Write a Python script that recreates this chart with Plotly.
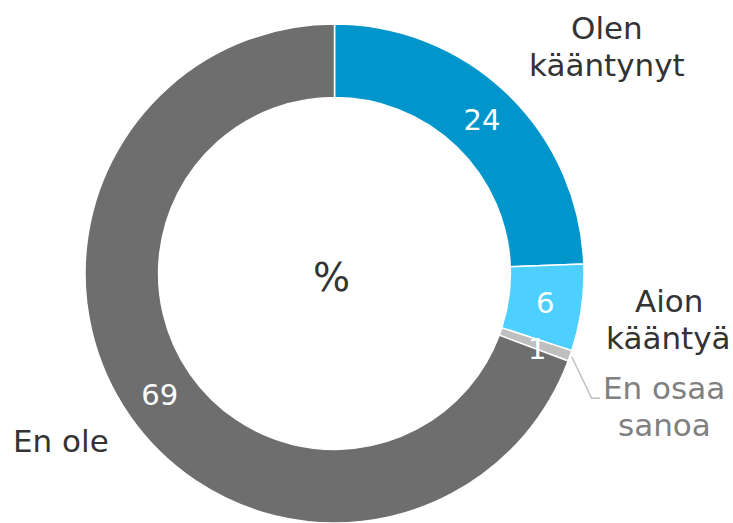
import plotly.graph_objects as go

W, H = 733, 523

categories = ["Olen<br>kääntynyt", "Aion<br>kääntyä", "En osaa<br>sanoa", "En ole"]
values = [24.4, 5.6, 0.7, 69.3]
colors = ["#0096CB", "#4DCFFF", "#BFBFBF", "#6E6E6E"]
label_colors = ["#333333", "#333333", "#808080", "#333333"]


def px(x):
    return x / W


def py(y):
    return 1 - y / H


cx, cy, R = 334.5, 274.5, 250.5
fig = go.Figure(go.Pie(
    labels=categories,
    values=values,
    sort=False,
    direction="clockwise",
    rotation=0,
    hole=0.705,
    marker=dict(colors=colors, line=dict(color="white", width=1.5)),
    texttemplate="%{value:.0f}",
    textposition=["inside", "inside", "none", "inside"],
    insidetextorientation="horizontal",
    textfont=dict(family="DejaVu Sans", size=29, color="white"),
    showlegend=False,
    hoverinfo="label+value",
    domain=dict(x=[px(cx - R), px(cx + R)], y=[0, py(cy - R)]),
))

LABEL_SIZE = 31
# (x centre, first-line baseline) for each category label, line pitch 37 px
label_pos = [(607, 39.5), (668.5, 312.5), (664, 399.5), (60.5, 453)]
annotations = []
for txt, col, (x, base) in zip(categories, label_colors, label_pos):
    for i, line in enumerate(txt.split("<br>")):
        b = base + 37 * i
        annotations.append(dict(
            text=line, x=px(x), y=py(b - 0.38 * LABEL_SIZE),
            xref="paper", yref="paper",
            xanchor="center", yanchor="middle", showarrow=False,
            font=dict(family="DejaVu Sans", size=LABEL_SIZE, color=col)))

# value label for the tiny slice
annotations.append(dict(
    text=f"{values[2]:.0f}", x=px(537), y=py(349), xref="paper", yref="paper",
    xanchor="center", yanchor="middle", showarrow=False,
    font=dict(family="DejaVu Sans", size=29, color="white")))

# centre label
annotations.append(dict(
    text="%", x=px(331.5), y=py(277), xref="paper", yref="paper",
    xanchor="center", yanchor="middle", showarrow=False,
    font=dict(family="DejaVu Sans", size=39, color="#333333")))

leader = (f"M {px(571.7)},{py(356.7)} L {px(591.7)},{py(398.3)} "
          f"L {px(600)},{py(398.3)}")

fig.update_layout(
    width=W, height=H, autosize=False,
    margin=dict(l=0, r=0, t=0, b=0),
    paper_bgcolor="white", plot_bgcolor="white",
    annotations=annotations,
    shapes=[dict(type="path", path=leader, xref="paper", yref="paper",
                 line=dict(color="#BFBFBF", width=1.5))],
)

fig.write_html("out.html", config={"displayModeBar": False},
               post_script="document.body.style.margin='0';")
